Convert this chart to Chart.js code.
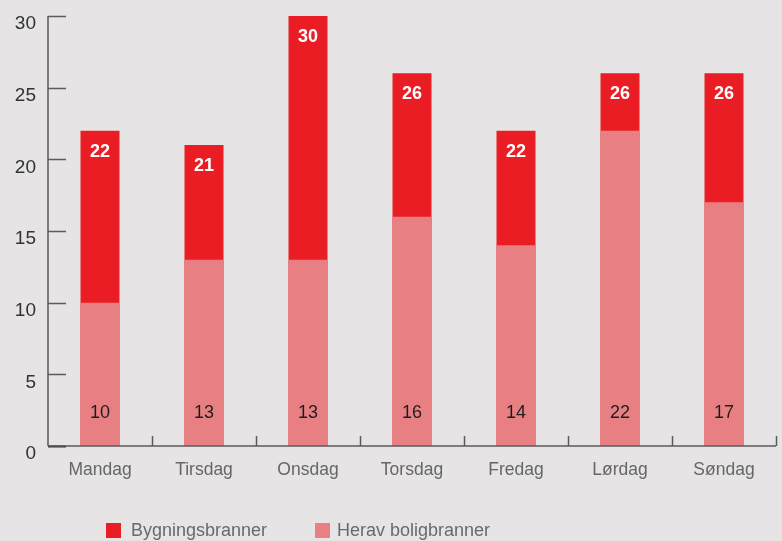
<!DOCTYPE html>
<html>
<head>
<meta charset="utf-8">
<script src="https://cdn.jsdelivr.net/npm/chart.js@4.4.1/dist/chart.umd.min.js"></script>
<style>
  html, body { margin: 0; padding: 0; background: #e6e4e5; }
  #wrap { width: 782px; height: 541px; position: relative; }
</style>
</head>
<body>
<div id="wrap"><canvas id="fireChart" width="782" height="541"></canvas></div>
<script>
// data
const days = ['Mandag', 'Tirsdag', 'Onsdag', 'Torsdag', 'Fredag', 'Lørdag', 'Søndag'];
const bygningsbranner = [22, 21, 30, 26, 22, 26, 26];
const boligbranner = [10, 13, 13, 16, 14, 22, 17];
const yTicks = [0, 5, 10, 15, 20, 25, 30];

const RED = '#ea1d25';
const PINK = '#e88083';
const AXIS = '#5a5a5a';
const FONT = '"Liberation Sans", Arial, sans-serif';

// axes with ticks pointing inwards + value labels + legend
const decor = {
  id: 'decor',
  afterDatasetsDraw(chart) {
    const ctx = chart.ctx;
    const x = chart.scales.x, y = chart.scales.y;
    const area = chart.chartArea;
    ctx.save();

    // value labels
    ctx.textAlign = 'center';
    ctx.textBaseline = 'middle';
    const m0 = chart.getDatasetMeta(0), m1 = chart.getDatasetMeta(1);
    m0.data.forEach((bar, i) => {
      ctx.font = 'bold 18px ' + FONT;
      ctx.fillStyle = '#ffffff';
      ctx.fillText(String(bygningsbranner[i]), bar.x, bar.y + 21);
    });
    m1.data.forEach((bar, i) => {
      ctx.font = '18px ' + FONT;
      ctx.fillStyle = '#1e1e1e';
      ctx.fillText(String(boligbranner[i]), bar.x, y.getPixelForValue(0) - 33);
    });

    // y axis
    ctx.strokeStyle = AXIS;
    ctx.lineWidth = 1.5;
    ctx.beginPath();
    ctx.moveTo(area.left, area.top);
    ctx.lineTo(area.left, area.bottom);
    ctx.stroke();
    yTicks.forEach(v => {
      const py = Math.round(y.getPixelForValue(v)) + 0.5;
      ctx.strokeStyle = v === 0 ? '#333' : AXIS;
      ctx.lineWidth = v === 0 ? 2 : 1.5;
      ctx.beginPath();
      ctx.moveTo(area.left, py);
      ctx.lineTo(area.left + 18, py);
      ctx.stroke();
    });

    // x axis
    ctx.strokeStyle = AXIS;
    ctx.lineWidth = 1.5;
    ctx.beginPath();
    ctx.moveTo(area.left, area.bottom);
    ctx.lineTo(area.right, area.bottom);
    ctx.stroke();
    for (let i = 1; i <= days.length; i++) {
      const px = Math.round(x.getPixelForValue(i - 0.5)) + 0.5;
      ctx.beginPath();
      ctx.moveTo(px, area.bottom);
      ctx.lineTo(px, area.bottom - 10);
      ctx.stroke();
    }

    // legend
    const items = [
      { label: chart.data.datasets[0].label, color: RED, x: 106, tx: 131 },
      { label: chart.data.datasets[1].label, color: PINK, x: 315, tx: 337 }
    ];
    ctx.textAlign = 'left';
    ctx.textBaseline = 'middle';
    ctx.font = '18px ' + FONT;
    items.forEach(it => {
      ctx.fillStyle = it.color;
      ctx.fillRect(it.x, 523, 15, 15);
      ctx.fillStyle = '#6a6a6a';
      ctx.fillText(it.label, it.tx, 531);
    });
    ctx.restore();
  }
};

new Chart(document.getElementById('fireChart'), {
  type: 'bar',
  data: {
    labels: days,
    datasets: [{
      label: 'Bygningsbranner',
      data: bygningsbranner,
      backgroundColor: RED,
      grouped: false,
      order: 1,
      barPercentage: 0.375,
      categoryPercentage: 1
    }, {
      label: 'Herav boligbranner',
      data: boligbranner,
      backgroundColor: PINK,
      grouped: false,
      order: 0,
      barPercentage: 0.375,
      categoryPercentage: 1
    }]
  },
  options: {
    responsive: false,
    animation: false,
    layout: { padding: { top: 16, right: 6, left: 0, bottom: 0 } },
    plugins: { legend: { display: false }, tooltip: { enabled: false } },
    scales: {
      x: {
        grid: { display: false, drawTicks: false },
        border: { display: false },
        ticks: { color: '#666', font: { family: FONT, size: 17.5 }, padding: 14 },
        afterFit: s => { s.height = 95; s.paddingLeft = 0; s.paddingRight = 0; }
      },
      y: {
        min: 0, max: 30,
        grid: { display: false, drawTicks: false },
        border: { display: false },
        ticks: {
          stepSize: 5, color: '#333', padding: 12, labelOffset: 8,
          font: { family: FONT, size: 19 }
        },
        afterFit: s => { s.width = 48; s.paddingTop = 0; s.paddingBottom = 0; }
      }
    }
  },
  plugins: [decor]
});
</script>
</body>
</html>
